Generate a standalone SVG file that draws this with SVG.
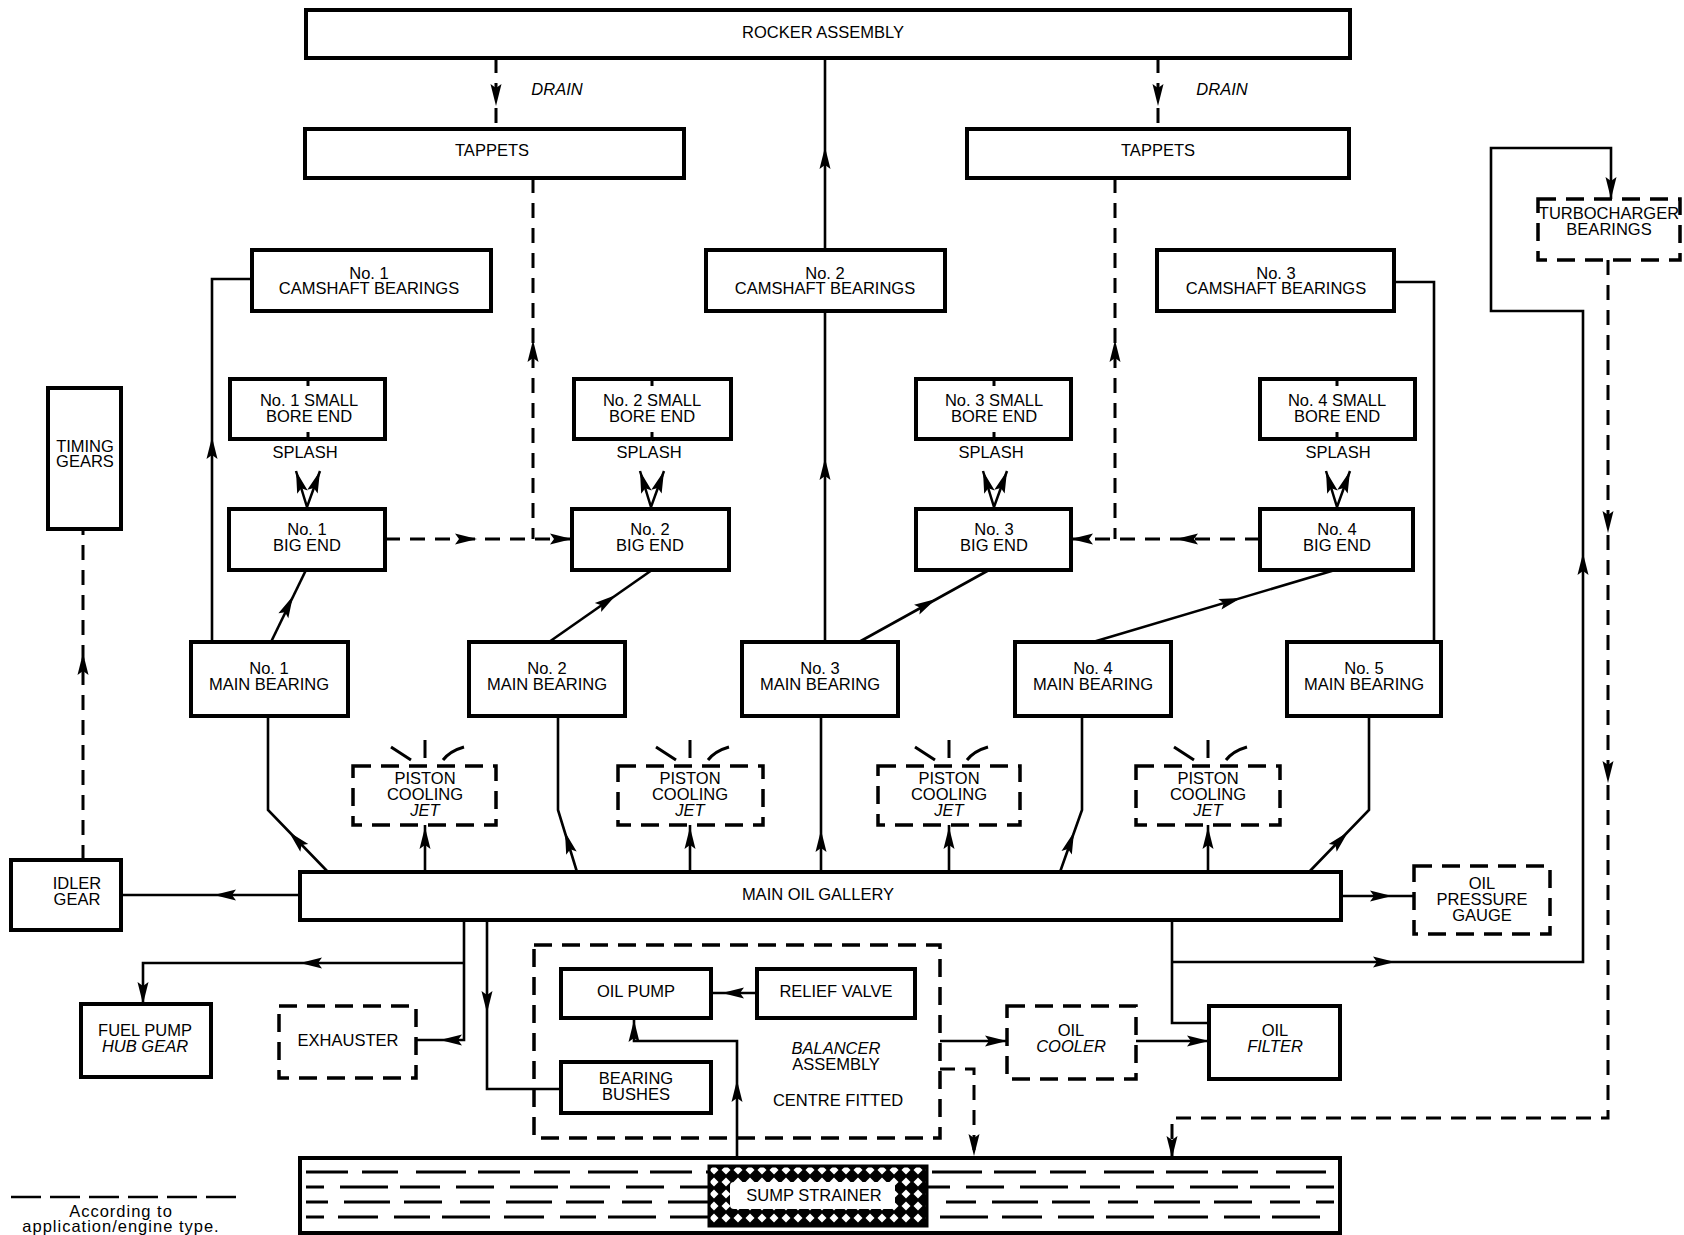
<svg xmlns="http://www.w3.org/2000/svg" xmlns:xlink="http://www.w3.org/1999/xlink" width="1684" height="1235" viewBox="0 0 1684 1235">
<style>
.b{fill:#fff;stroke:#000;stroke-width:4}
.d{fill:#fff;stroke:#000;stroke-width:3.5;stroke-dasharray:18 10}
.dn{fill:none;stroke:#000;stroke-width:3.5;stroke-dasharray:18 10}
.c{fill:none;stroke:#000;stroke-width:2.6}
.cd{fill:none;stroke:#000;stroke-width:3;stroke-dasharray:15 10}
.t{font-family:"Liberation Sans",Arial,sans-serif;font-size:16.5px;text-anchor:middle;fill:#000}
.i{font-style:italic}
.sp{fill:none;stroke:#000;stroke-width:3}
.sd{fill:none;stroke:#000;stroke-width:2.5}
</style>
<defs>
<path id="ah" d="M0,0 L-22,-5.5 L-18,0 L-22,5.5 Z" fill="#000"/>
<pattern id="mesh" patternUnits="userSpaceOnUse" width="12" height="12">
<rect width="12" height="12" fill="#000"/>
<polygon points="6,1.5 10.5,6 6,10.5 1.5,6" fill="#fff"/>
</pattern>
</defs>
<rect width="1684" height="1235" fill="#fff"/>

<g id="rocker"><rect class="b" x="306" y="10" width="1044" height="48"/><text class="t" x="823" y="38">ROCKER ASSEMBLY</text></g>
<text class="t i" x="557" y="95">DRAIN</text>
<text class="t i" x="1222" y="95">DRAIN</text>
<g id="tappets1"><rect class="b" x="305" y="129" width="379" height="49"/><text class="t" x="492" y="156">TAPPETS</text></g>
<g id="tappets2"><rect class="b" x="967" y="129" width="382" height="49"/><text class="t" x="1158" y="156">TAPPETS</text></g>

<g id="cam1"><rect class="b" x="252" y="250" width="239" height="61"/><text class="t" x="369" y="279">No. 1</text><text class="t" x="369" y="294">CAMSHAFT BEARINGS</text></g>
<g id="cam2"><rect class="b" x="706" y="250" width="239" height="61"/><text class="t" x="825" y="279">No. 2</text><text class="t" x="825" y="294">CAMSHAFT BEARINGS</text></g>
<g id="cam3"><rect class="b" x="1157" y="250" width="237" height="61"/><text class="t" x="1276" y="279">No. 3</text><text class="t" x="1276" y="294">CAMSHAFT BEARINGS</text></g>

<g id="sbe1"><rect class="b" x="230" y="379" width="155" height="60"/><path class="sp" d="M308,379 V386 M308,432 V439"/><text class="t" x="309" y="406">No. 1 SMALL</text><text class="t" x="309" y="422">BORE END</text></g>
<g id="sbe2"><rect class="b" x="574" y="379" width="157" height="60"/><path class="sp" d="M652,379 V386 M652,432 V439"/><text class="t" x="652" y="406">No. 2 SMALL</text><text class="t" x="652" y="422">BORE END</text></g>
<g id="sbe3"><rect class="b" x="916" y="379" width="155" height="60"/><path class="sp" d="M994,379 V386 M994,432 V439"/><text class="t" x="994" y="406">No. 3 SMALL</text><text class="t" x="994" y="422">BORE END</text></g>
<g id="sbe4"><rect class="b" x="1260" y="379" width="155" height="60"/><path class="sp" d="M1337,379 V386 M1337,432 V439"/><text class="t" x="1337" y="406">No. 4 SMALL</text><text class="t" x="1337" y="422">BORE END</text></g>
<text class="t" x="305" y="458">SPLASH</text>
<text class="t" x="649" y="458">SPLASH</text>
<text class="t" x="991" y="458">SPLASH</text>
<text class="t" x="1338" y="458">SPLASH</text>

<g id="be1"><rect class="b" x="229" y="509" width="156" height="61"/><text class="t" x="307" y="535">No. 1</text><text class="t" x="307" y="551">BIG END</text></g>
<g id="be2"><rect class="b" x="572" y="509" width="157" height="61"/><text class="t" x="650" y="535">No. 2</text><text class="t" x="650" y="551">BIG END</text></g>
<g id="be3"><rect class="b" x="916" y="509" width="155" height="61"/><text class="t" x="994" y="535">No. 3</text><text class="t" x="994" y="551">BIG END</text></g>
<g id="be4"><rect class="b" x="1260" y="509" width="153" height="61"/><text class="t" x="1337" y="535">No. 4</text><text class="t" x="1337" y="551">BIG END</text></g>

<g id="mb1"><rect class="b" x="191" y="642" width="157" height="74"/><text class="t" x="269" y="674">No. 1</text><text class="t" x="269" y="690">MAIN BEARING</text></g>
<g id="mb2"><rect class="b" x="469" y="642" width="156" height="74"/><text class="t" x="547" y="674">No. 2</text><text class="t" x="547" y="690">MAIN BEARING</text></g>
<g id="mb3"><rect class="b" x="742" y="642" width="156" height="74"/><text class="t" x="820" y="674">No. 3</text><text class="t" x="820" y="690">MAIN BEARING</text></g>
<g id="mb4"><rect class="b" x="1015" y="642" width="156" height="74"/><text class="t" x="1093" y="674">No. 4</text><text class="t" x="1093" y="690">MAIN BEARING</text></g>
<g id="mb5"><rect class="b" x="1287" y="642" width="154" height="74"/><text class="t" x="1364" y="674">No. 5</text><text class="t" x="1364" y="690">MAIN BEARING</text></g>

<g id="pcj1"><rect class="d" x="353" y="766" width="143" height="59"/><text class="t" x="425" y="784">PISTON</text><text class="t" x="425" y="800">COOLING</text><text class="t i" x="425" y="816">JET</text></g>
<g id="pcj2"><rect class="d" x="618" y="766" width="145" height="59"/><text class="t" x="690" y="784">PISTON</text><text class="t" x="690" y="800">COOLING</text><text class="t i" x="690" y="816">JET</text></g>
<g id="pcj3"><rect class="d" x="878" y="766" width="142" height="59"/><text class="t" x="949" y="784">PISTON</text><text class="t" x="949" y="800">COOLING</text><text class="t i" x="949" y="816">JET</text></g>
<g id="pcj4"><rect class="d" x="1136" y="766" width="144" height="59"/><text class="t" x="1208" y="784">PISTON</text><text class="t" x="1208" y="800">COOLING</text><text class="t i" x="1208" y="816">JET</text></g>

<g id="timing"><rect class="b" x="48" y="388" width="73" height="141"/><text class="t" x="85" y="452">TIMING</text><text class="t" x="85" y="467">GEARS</text></g>
<g id="idler"><rect class="b" x="11" y="860" width="110" height="70"/><text class="t" x="77" y="889">IDLER</text><text class="t" x="77" y="905">GEAR</text></g>
<g id="gallery"><rect class="b" x="300" y="872" width="1041" height="48"/><text class="t" x="818" y="900">MAIN OIL GALLERY</text></g>
<g id="gauge"><rect class="d" x="1414" y="866" width="136" height="68"/><text class="t" x="1482" y="889">OIL</text><text class="t" x="1482" y="905">PRESSURE</text><text class="t" x="1482" y="921">GAUGE</text></g>
<g id="turbo"><rect class="d" x="1538" y="199" width="142" height="61"/><text class="t" x="1609" y="219">TURBOCHARGER</text><text class="t" x="1609" y="235">BEARINGS</text></g>

<g id="fuelpump"><rect class="b" x="81" y="1004" width="130" height="73"/><text class="t" x="145" y="1036">FUEL PUMP</text><text class="t i" x="145" y="1052">HUB GEAR</text></g>
<g id="exhauster"><rect class="d" x="279" y="1006" width="137" height="72"/><text class="t" x="348" y="1046">EXHAUSTER</text></g>
<g id="balancer"><rect class="dn" x="534" y="945" width="406" height="193"/><text class="t i" x="836" y="1054">BALANCER</text><text class="t" x="836" y="1070">ASSEMBLY</text><text class="t" x="838" y="1106">CENTRE FITTED</text></g>
<g id="oilpump"><rect class="b" x="561" y="969" width="150" height="49"/><text class="t" x="636" y="997">OIL PUMP</text></g>
<g id="relief"><rect class="b" x="757" y="969" width="158" height="49"/><text class="t" x="836" y="997">RELIEF VALVE</text></g>
<g id="bushes"><rect class="b" x="561" y="1062" width="150" height="51"/><text class="t" x="636" y="1084">BEARING</text><text class="t" x="636" y="1100">BUSHES</text></g>
<g id="cooler"><rect class="d" x="1007" y="1006" width="129" height="73"/><text class="t" x="1071" y="1036">OIL</text><text class="t i" x="1071" y="1052">COOLER</text></g>
<g id="filter"><rect class="b" x="1209" y="1006" width="131" height="73"/><text class="t" x="1275" y="1036">OIL</text><text class="t i" x="1275" y="1052">FILTER</text></g>

<g id="sump">
<rect class="b" x="300" y="1158" width="1040" height="75"/>
<path fill="none" stroke="#000" stroke-width="3" stroke-dasharray="42 14 36 18 50 12" d="M306,1172 H1334"/>
<path fill="none" stroke="#000" stroke-width="3" stroke-dasharray="38 16 48 12 40 16" stroke-dashoffset="20" d="M306,1187 H1334"/>
<path fill="none" stroke="#000" stroke-width="3" stroke-dasharray="30 16 46 14 38 18" stroke-dashoffset="8" d="M306,1202 H1334"/>
<path fill="none" stroke="#000" stroke-width="3" stroke-dasharray="48 14 40 16 36 12" stroke-dashoffset="30" d="M306,1217 H1334"/>
</g>
<g id="strainer">
<rect x="709" y="1166" width="218" height="60" fill="url(#mesh)" stroke="#000" stroke-width="3"/>
<rect x="730" y="1182" width="165" height="27" rx="4" fill="#fff"/>
<text class="t" x="814" y="1201">SUMP STRAINER</text>
</g>

<g id="legend">
<path fill="none" stroke="#000" stroke-width="2.5" stroke-dasharray="30 9" d="M11,1197 H241"/>
<text class="t" x="121" y="1217" style="letter-spacing:1px">According to</text>
<text class="t" x="121" y="1232" style="letter-spacing:1px">application/engine type.</text>
</g>

<g id="connectors">
<path class="cd" d="M496,58 V129"/>
<use href="#ah" transform="translate(496,106) rotate(90)"/>
<path class="cd" d="M1158,58 V129"/>
<use href="#ah" transform="translate(1158,106) rotate(90)"/>
<path class="c" d="M825,250 V58"/>
<use href="#ah" transform="translate(825,147) rotate(-90)"/>
<path class="c" d="M825,642 V311"/>
<use href="#ah" transform="translate(825,458) rotate(-90)"/>
<path class="cd" d="M533,178 V539"/>
<use href="#ah" transform="translate(533,340) rotate(-90)"/>
<path class="cd" d="M1115,178 V539"/>
<use href="#ah" transform="translate(1115,340) rotate(-90)"/>
<path class="c" d="M212,642 V279 H252"/>
<use href="#ah" transform="translate(212,437) rotate(-90)"/>
<path class="c" d="M1394,282 H1434 V642"/>
<path class="cd" d="M385,539 H572"/>
<use href="#ah" transform="translate(477,539)"/>
<use href="#ah" transform="translate(572,539)"/>
<path class="cd" d="M1260,539 H1071"/>
<use href="#ah" transform="translate(1176,539) rotate(180)"/>
<use href="#ah" transform="translate(1071,539) rotate(180)"/>
<path class="sd" d="M296,471 L307,507 L320,471"/>
<use href="#ah" transform="translate(296,471) rotate(-107)"/>
<use href="#ah" transform="translate(320,471) rotate(-70)"/>
<path class="sd" d="M640,471 L651,507 L664,471"/>
<use href="#ah" transform="translate(640,471) rotate(-107)"/>
<use href="#ah" transform="translate(664,471) rotate(-70)"/>
<path class="sd" d="M983,471 L994,507 L1007,471"/>
<use href="#ah" transform="translate(983,471) rotate(-107)"/>
<use href="#ah" transform="translate(1007,471) rotate(-70)"/>
<path class="sd" d="M1326,471 L1337,507 L1350,471"/>
<use href="#ah" transform="translate(1326,471) rotate(-107)"/>
<use href="#ah" transform="translate(1350,471) rotate(-70)"/>
<path class="c" d="M271,642 L306,570"/>
<use href="#ah" transform="translate(293,596) rotate(-64)"/>
<path class="c" d="M549,642 L652,570"/>
<use href="#ah" transform="translate(616,595) rotate(-35)"/>
<path class="c" d="M859,642 L989,570"/>
<use href="#ah" transform="translate(936,599) rotate(-29)"/>
<path class="c" d="M1093,642 L1335,570"/>
<use href="#ah" transform="translate(1241,598) rotate(-16.6)"/>
<path class="c" d="M328,872 L268,810 V716"/>
<use href="#ah" transform="translate(289,832) rotate(-134)"/>
<path class="c" d="M577,872 L558,810 V716"/>
<use href="#ah" transform="translate(565,832) rotate(-107)"/>
<path class="c" d="M821,872 V716"/>
<use href="#ah" transform="translate(821,830) rotate(-90)"/>
<path class="c" d="M1060,872 L1082,810 V716"/>
<use href="#ah" transform="translate(1074,832) rotate(-70.5)"/>
<path class="c" d="M1309,872 L1369,810 V716"/>
<use href="#ah" transform="translate(1348,832) rotate(-46)"/>
<path class="c" d="M425,872 V825"/>
<use href="#ah" transform="translate(425,827) rotate(-90)"/>
<path class="c" d="M690,872 V825"/>
<use href="#ah" transform="translate(690,827) rotate(-90)"/>
<path class="c" d="M949,872 V825"/>
<use href="#ah" transform="translate(949,827) rotate(-90)"/>
<path class="c" d="M1208,872 V825"/>
<use href="#ah" transform="translate(1208,827) rotate(-90)"/>
<path class="sp" d="M391,747 L411,760 M425,740 V758 M443,760 Q450,751 464,747"/>
<path class="sp" d="M656,747 L676,760 M690,740 V758 M708,760 Q715,751 729,747"/>
<path class="sp" d="M915,747 L935,760 M949,740 V758 M967,760 Q974,751 988,747"/>
<path class="sp" d="M1174,747 L1194,760 M1208,740 V758 M1226,760 Q1233,751 1247,747"/>
<path class="c" d="M300,895 H121"/>
<use href="#ah" transform="translate(214,895) rotate(180)"/>
<path class="cd" d="M83,860 V529"/>
<use href="#ah" transform="translate(83,653) rotate(-90)"/>
<path class="c" d="M464,920 V1040 H416"/>
<path class="c" d="M464,963 H143 V1004"/>
<use href="#ah" transform="translate(300,963) rotate(180)"/>
<use href="#ah" transform="translate(143,1004) rotate(90)"/>
<use href="#ah" transform="translate(440,1040) rotate(180)"/>
<path class="c" d="M487,920 V1089 H561"/>
<use href="#ah" transform="translate(487,1013) rotate(90)"/>
<path class="c" d="M737,1158 V1041 H634 V1018"/>
<use href="#ah" transform="translate(737,1080) rotate(-90)"/>
<use href="#ah" transform="translate(634,1020) rotate(-90)"/>
<path class="c" d="M757,993 H711"/>
<use href="#ah" transform="translate(722,993) rotate(180)"/>
<path class="c" d="M940,1041 H1007"/>
<use href="#ah" transform="translate(1007,1041)"/>
<path class="cd" d="M940,1069 H974 V1158"/>
<use href="#ah" transform="translate(974,1156) rotate(90)"/>
<path class="c" d="M1136,1041 H1209"/>
<use href="#ah" transform="translate(1209,1041)"/>
<path class="c" d="M1172,920 V1023 H1209"/>
<path class="c" d="M1172,962 H1583 V311 H1491 V148 H1611 V199"/>
<use href="#ah" transform="translate(1395,962)"/>
<use href="#ah" transform="translate(1583,553) rotate(-90)"/>
<use href="#ah" transform="translate(1611,199) rotate(90)"/>
<path class="cd" d="M1608,260 V1118 H1172 V1158"/>
<use href="#ah" transform="translate(1608,533) rotate(90)"/>
<use href="#ah" transform="translate(1608,783) rotate(90)"/>
<use href="#ah" transform="translate(1172,1158) rotate(90)"/>
<path class="c" d="M1341,896 H1414"/>
<use href="#ah" transform="translate(1392,896)"/>
</g>
</svg>
